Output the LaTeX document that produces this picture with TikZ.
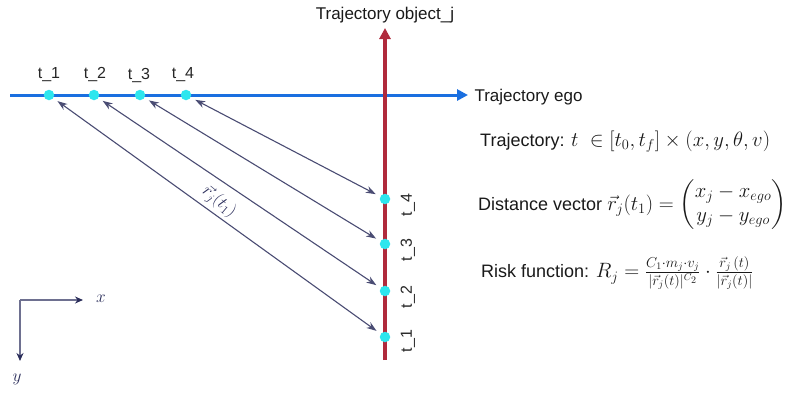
\documentclass[tikz,border=0pt]{standalone}
\usepackage{amsmath}
\usepackage{fontspec}
\setmainfont{Liberation Sans}
\usetikzlibrary{arrows.meta}
\definecolor{egoblue}{HTML}{1A6FE0}
\definecolor{objred}{HTML}{B02A3C}
\definecolor{dotcyan}{HTML}{2EE6EE}
\definecolor{navy}{HTML}{2A2D5A}
\definecolor{axisgray}{HTML}{6E7090}
\newcommand{\bigmath}[1]{{\fontsize{20}{24}\selectfont$#1$}}
\tikzset{
  dotnode/.style={circle,fill=dotcyan,inner sep=0pt,minimum size=10.5pt},
  tlabel/.style={font=\fontsize{16}{18}\selectfont,text=black!85,inner sep=1pt},
  distarrow/.style={draw=navy!85,line width=1.1pt,{Stealth[length=10pt,width=7pt]}-{Stealth[length=10pt,width=7pt]},shorten <=5pt,shorten >=5pt},
  eqtext/.style={font=\fontsize{18}{22}\selectfont,anchor=west,inner sep=0pt,text=black!90},
  axisline/.style={draw=axisgray,line width=1.3pt,-{Stealth[length=8pt,width=7pt,color=navy]}},
}
\begin{document}
\begin{tikzpicture}[x=1pt,y=-1pt]
\useasboundingbox (0,0) rectangle (788,392);
% ego trajectory
\coordinate (egostart) at (10,95);
\coordinate (egoend) at (468,95);
\draw[egoblue,line width=3pt,-{Triangle[length=11pt,width=11pt]}] (egostart) -- (egoend);
\node[anchor=west,font=\fontsize{17}{20}\selectfont,text=black!90] (egolabel) at (471,97) {Trajectory ego};
% object trajectory
\coordinate (objstart) at (385,360);
\coordinate (objend) at (385,28);
\draw[objred,line width=3.3pt,-{Triangle[length=11pt,width=11pt]}] (objstart) -- (objend);
\node[font=\fontsize{17}{20}\selectfont,text=black!90] (objlabel) at (385,15) {Trajectory object\_j};
% ego points
\node[dotnode] (e1) at (49,95) {};
\node[dotnode] (e2) at (94,95) {};
\node[dotnode] (e3) at (140,95) {};
\node[dotnode] (e4) at (186,95) {};
\node[tlabel] (le1) at (49,75) {t\_1};
\node[tlabel] (le2) at (95,74) {t\_2};
\node[tlabel] (le3) at (139,75) {t\_3};
\node[tlabel] (le4) at (183,75) {t\_4};
% object points
\node[dotnode] (o4) at (385,199) {};
\node[dotnode] (o3) at (385,244) {};
\node[dotnode] (o2) at (385,291) {};
\node[dotnode] (o1) at (385,337) {};
\node[tlabel,rotate=90] (lo4) at (408,205) {t\_4};
\node[tlabel,rotate=90] (lo3) at (408,250) {t\_3};
\node[tlabel,rotate=90] (lo2) at (408,297) {t\_2};
\node[tlabel,rotate=90] (lo1) at (408,341) {t\_1};
% distance arrows
\draw[distarrow] (e1) -- (o1);
\draw[distarrow] (e2) -- (o2);
\draw[distarrow] (e3) -- (o3);
\draw[distarrow] (e4) -- (o4);
\node[rotate=-40,text=navy,font=\fontsize{18}{20}\selectfont,inner sep=0pt] (rlabel) at (219,202) {$\vec r_j(t_1)$};
% equations
\node[eqtext] (eq1) at (480,142) {Trajectory: \bigmath{t\ \in [t_0,t_f]\times(x,y,\theta,v)}};
\node[eqtext] (eq2) at (478,205) {Distance vector \bigmath{\vec r_j(t_1)=\begin{pmatrix}x_j-x_{ego}\\ y_j-y_{ego}\end{pmatrix}}};
\node[eqtext] (eq3) at (481,273) {Risk function: \bigmath{R_j=\frac{C_1\cdot m_j\cdot v_j}{|\vec r_j(t)|^{C_2}}\cdot\frac{\vec r_j\,(t)}{|\vec r_j(t)|}}};
% axes
\coordinate (origin) at (20,300);
\coordinate (xend) at (83,300);
\coordinate (yend) at (20,361);
\draw[axisline] (origin) -- (xend);
\draw[axisline] (origin) -- (yend);
\node[font=\fontsize{18}{20}\selectfont,text=navy] (xlabel) at (101,299) {$x$};
\node[font=\fontsize{18}{20}\selectfont,text=navy] (ylabel) at (17,379) {$y$};
\end{tikzpicture}
\end{document}
